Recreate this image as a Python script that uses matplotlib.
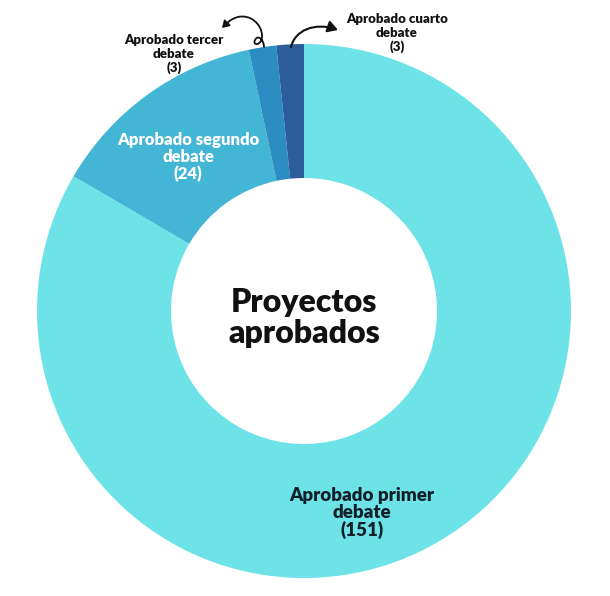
import matplotlib
matplotlib.use("Agg")
import matplotlib.pyplot as plt
from matplotlib.patches import FancyArrowPatch
from matplotlib.path import Path

categories = ["Aprobado primer\ndebate", "Aprobado segundo\ndebate",
              "Aprobado tercer\ndebate", "Aprobado cuarto\ndebate"]
values = [151, 24, 3, 3]
colors = ["#6de3e7", "#43b6d6", "#2b8dc1", "#2d5c9b"]
center_title = "Proyectos\naprobados"

W, H = 610, 596
fig = plt.figure(figsize=(W / 100, H / 100), dpi=100)
ax = fig.add_axes([0, 0, 1, 1])

cx, cy = 304, H - 311
R = 267
ax.pie(values, colors=colors, startangle=90, counterclock=False,
       center=(cx, cy), radius=R, frame=True,
       wedgeprops=dict(width=R - 133, linewidth=0))
ax.set_xlim(0, W)
ax.set_ylim(0, H)
ax.set_aspect("equal")
ax.axis("off")

font = ["Lato", "DejaVu Sans"]

ax.text(cx, cy - 7, center_title, ha="center", va="center", fontsize=23,
        fontweight="heavy", family=font, color="#111111", linespacing=1.05)

def lab(x, y, text, size, color, ls=1.0):
    ax.text(x, H - y, text, ha="center", va="center", fontsize=size,
            fontweight="heavy", family=font, color=color, linespacing=ls)

lab(362, 513, f"{categories[0]}\n({values[0]})", 13.5, "#10202a", 1.0)
lab(188, 157, f"{categories[1]}\n({values[1]})", 12, "white", 1.05)
lab(174, 54, f"{categories[2]}\n({values[2]})", 9.5, "#111111", 1.15)
lab(397, 33, f"{categories[3]}\n({values[3]})", 9.5, "#111111", 1.15)

# curly arrow for tercer debate
p = [(264, 47), (264, 40), (258, 34), (255, 40), (252, 46), (262, 46), (262, 36),
     (262, 24), (250, 14), (238, 17), (230, 19), (226, 24), (222, 28)]
verts = [(x, H - y) for x, y in p]
codes = [Path.MOVETO] + [Path.CURVE4] * 12
arr1 = FancyArrowPatch(path=Path(verts, codes), arrowstyle="-|>,head_length=4,head_width=2.5",
                       color="#111111", lw=1.3)
ax.add_patch(arr1)

# arrow for cuarto debate
p2 = [(291, 47), (295, 30), (315, 22), (338, 30)]
verts2 = [(x, H - y) for x, y in p2]
codes2 = [Path.MOVETO, Path.CURVE4, Path.CURVE4, Path.CURVE4]
arr2 = FancyArrowPatch(path=Path(verts2, codes2), arrowstyle="-|>,head_length=6,head_width=3.5",
                       color="#111111", lw=1.5)
ax.add_patch(arr2)

fig.savefig("out.png", dpi=100, facecolor="white")
